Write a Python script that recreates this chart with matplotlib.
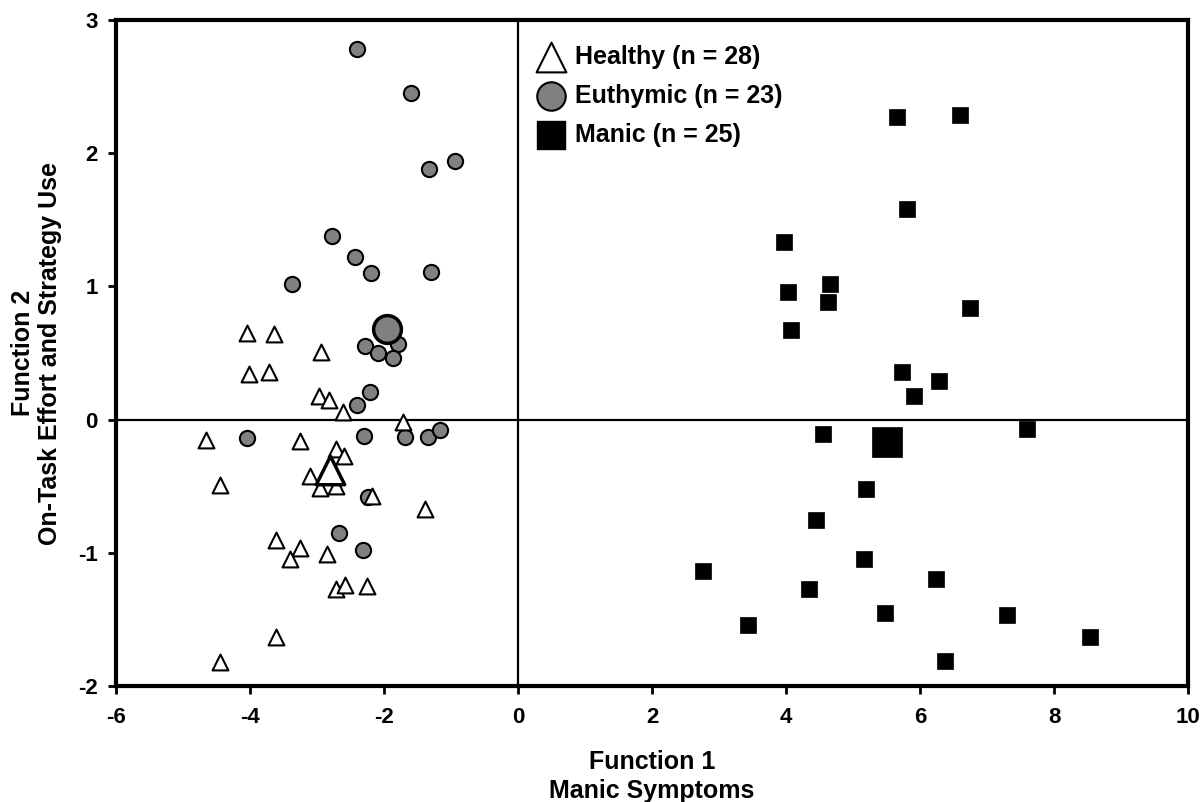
import matplotlib.pyplot as plt

plt.rcParams['font.family'] = ['Liberation Sans', 'DejaVu Sans']
plt.rcParams['font.weight'] = 'bold'
plt.rcParams['axes.unicode_minus'] = False

# Healthy group (triangles)
healthy_x = [-4.04, -3.64, -2.94, -4.01, -3.72, -2.97, -2.82, -2.61, -1.72, -4.66,
             -3.26, -2.71, -2.60, -3.11, -4.45, -2.96, -2.72, -2.18, -1.39, -3.61,
             -3.25, -3.40, -2.85, -2.71, -2.59, -2.26, -3.61, -4.45]
healthy_y = [0.65, 0.64, 0.51, 0.34, 0.36, 0.18, 0.15, 0.06, -0.02, -0.15,
             -0.16, -0.22, -0.27, -0.42, -0.49, -0.51, -0.50, -0.57, -0.67, -0.90,
             -0.96, -1.05, -1.01, -1.27, -1.24, -1.25, -1.63, -1.82]
healthy_c = (-2.81, -0.38)

# Euthymic group (grey circles)
euth_x = [-2.41, -1.60, -0.94, -1.33, -2.77, -2.44, -2.19, -1.30, -3.38, -1.79,
          -2.29, -2.09, -1.87, -2.21, -2.40, -4.04, -2.30, -1.69, -1.34, -1.17,
          -2.24, -2.67, -2.31]
euth_y = [2.78, 2.45, 1.94, 1.88, 1.38, 1.22, 1.10, 1.11, 1.02, 0.57,
          0.55, 0.50, 0.46, 0.21, 0.11, -0.14, -0.12, -0.13, -0.13, -0.08,
          -0.58, -0.85, -0.98]
euth_c = (-1.95, 0.68)

# Manic group (black squares)
manic_x = [5.65, 6.59, 5.81, 3.97, 4.65, 4.03, 4.62, 6.75, 4.07, 5.73,
           6.28, 5.91, 4.55, 7.59, 5.20, 4.45, 5.17, 6.24, 4.34, 3.43,
           5.47, 7.30, 8.53, 6.38, 2.76]
manic_y = [2.27, 2.29, 1.58, 1.33, 1.02, 0.96, 0.88, 0.84, 0.67, 0.36,
           0.29, 0.18, -0.11, -0.07, -0.52, -0.75, -1.05, -1.20, -1.27, -1.54,
           -1.45, -1.47, -1.63, -1.81, -1.14]
manic_c = (5.51, -0.17)

fig = plt.figure(figsize=(12, 8.02), dpi=100)
ax = fig.add_axes([0.0967, 0.1446, 0.8933, 0.8304])

ax.axhline(0, color='black', lw=1.6, zorder=1)
ax.axvline(0, color='black', lw=1.6, zorder=1)

ax.scatter(euth_x, euth_y, s=120, marker='o', facecolor='#808080', edgecolor='black', linewidth=1.5, zorder=3)
ax.scatter(healthy_x, healthy_y, s=130, marker='^', facecolor='white', edgecolor='black', linewidth=1.5, zorder=4)
ax.scatter(manic_x, manic_y, s=125, marker='s', facecolor='black', edgecolor='black', linewidth=0.5, zorder=3)

ax.scatter([euth_c[0]], [euth_c[1]], s=400, marker='o', facecolor='#808080', edgecolor='black', linewidth=2.5, zorder=5)
ax.scatter([healthy_c[0]], [healthy_c[1]], s=420, marker='^', facecolor='white', edgecolor='black', linewidth=2.5, zorder=5)
ax.scatter([manic_c[0]], [manic_c[1]], s=460, marker='s', facecolor='black', edgecolor='black', linewidth=0.5, zorder=5)

# legend
h1 = ax.scatter([], [], s=460, marker='^', facecolor='white', edgecolor='black', linewidth=1.5)
h2 = ax.scatter([], [], s=420, marker='o', facecolor='#808080', edgecolor='black', linewidth=1.5)
h3 = ax.scatter([], [], s=380, marker='s', facecolor='black', edgecolor='black')
ax.legend([h1, h2, h3], ['Healthy (n = 28)', 'Euthymic (n = 23)', 'Manic (n = 25)'],
          loc='upper left', bbox_to_anchor=(0.364, 1.0), frameon=False, fontsize=18,
          handletextpad=0.15, labelspacing=0.6, borderaxespad=0.6, handlelength=1.6)

ax.set_xlim(-6, 10)
ax.set_ylim(-2, 3)
ax.set_xticks(range(-6, 11, 2))
ax.set_yticks(range(-2, 4))
for s in ax.spines.values():
    s.set_linewidth(3)
ax.tick_params(direction='out', length=6, width=2, labelsize=16)
ax.tick_params(axis='x', pad=9)
ax.tick_params(axis='y', pad=7)

ax.set_xlabel('Function 1\nManic Symptoms', fontsize=18, fontweight='bold', labelpad=16, linespacing=1.25)
ax.set_ylabel('Function 2\nOn-Task Effort and Strategy Use', fontsize=18, fontweight='bold', labelpad=12, linespacing=1.15)

plt.savefig('out.png')
